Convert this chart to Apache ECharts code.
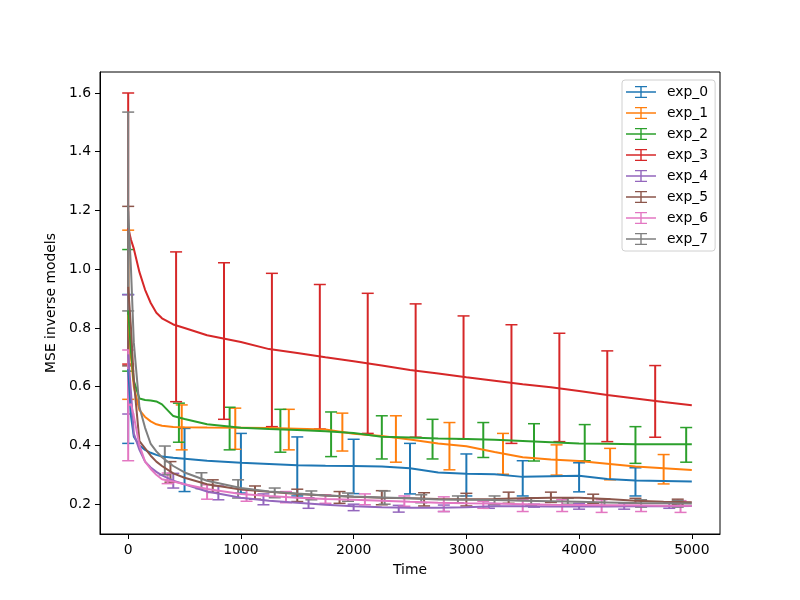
<!DOCTYPE html>
<html>
<head>
<meta charset="utf-8">
<script src="https://cdn.jsdelivr.net/npm/echarts@6.0.0/dist/echarts.min.js"></script>
<style>
  html, body { margin: 0; padding: 0; background: #fff; }
  #main { width: 800px; height: 600px; }
</style>
</head>
<body>
<div id="main"></div>
<script>
// sample times for the mean curves
var times = [0, 25, 50, 100, 150, 200, 250, 300, 400, 500, 700, 1000, 1250, 1500, 1750, 2000,
  2250, 2500, 2750, 3000, 3250, 3500, 3750, 4000, 4250, 4500, 4750, 5000];

var exp0 = [0.66, 0.50, 0.43, 0.40, 0.385, 0.375, 0.368, 0.362, 0.358, 0.355, 0.348, 0.341, 0.337, 0.333, 0.331, 0.330,
  0.328, 0.322, 0.308, 0.304, 0.302, 0.293, 0.295, 0.297, 0.286, 0.281, 0.279, 0.277];
var exp1 = [0.845, 0.70, 0.60, 0.52, 0.497, 0.482, 0.472, 0.467, 0.463, 0.462, 0.461, 0.460, 0.459, 0.457, 0.454, 0.440,
  0.432, 0.420, 0.407, 0.397, 0.378, 0.360, 0.352, 0.347, 0.338, 0.328, 0.322, 0.316];
var exp2 = [0.86, 0.72, 0.62, 0.56, 0.555, 0.553, 0.55, 0.54, 0.50, 0.49, 0.472, 0.46, 0.456, 0.453, 0.448, 0.442,
  0.430, 0.427, 0.424, 0.422, 0.419, 0.415, 0.411, 0.407, 0.406, 0.404, 0.404, 0.404];
var exp3 = [1.14, 1.10, 1.07, 0.99, 0.93, 0.885, 0.852, 0.833, 0.812, 0.80, 0.775, 0.752, 0.728, 0.715, 0.70, 0.687,
  0.672, 0.657, 0.645, 0.632, 0.62, 0.608, 0.598, 0.585, 0.572, 0.56, 0.548, 0.537];
var exp4 = [0.71, 0.58, 0.44, 0.385, 0.345, 0.325, 0.31, 0.298, 0.28, 0.268, 0.243, 0.222, 0.212, 0.205, 0.198, 0.193,
  0.19, 0.188, 0.188, 0.19, 0.193, 0.193, 0.192, 0.192, 0.192, 0.193, 0.193, 0.194];
var exp5 = [0.94, 0.80, 0.62, 0.415, 0.39, 0.365, 0.345, 0.33, 0.305, 0.29, 0.268, 0.25, 0.242, 0.235, 0.23, 0.225,
  0.222, 0.22, 0.218, 0.217, 0.218, 0.22, 0.222, 0.222, 0.218, 0.212, 0.208, 0.207];
var exp6 = [0.537, 0.54, 0.50, 0.40, 0.345, 0.32, 0.30, 0.285, 0.277, 0.268, 0.252, 0.235, 0.228, 0.222, 0.218, 0.215,
  0.212, 0.208, 0.205, 0.203, 0.202, 0.20, 0.198, 0.197, 0.196, 0.196, 0.195, 0.195];
var exp7 = [1.197, 1.0, 0.75, 0.53, 0.46, 0.405, 0.38, 0.36, 0.33, 0.308, 0.28, 0.255, 0.243, 0.236, 0.23, 0.226,
  0.223, 0.22, 0.216, 0.215, 0.214, 0.212, 0.21, 0.208, 0.206, 0.204, 0.203, 0.202];

// error bars: [time, low, high]
var err0 = [[0, 0.407, 0.914], [500, 0.243, 0.458], [1000, 0.238, 0.441], [1500, 0.228, 0.429], [2000, 0.236, 0.421],
  [2500, 0.235, 0.407], [3000, 0.228, 0.371], [3500, 0.228, 0.348], [4000, 0.242, 0.341], [4500, 0.228, 0.324]];
var err1 = [[0, 0.557, 1.133], [475, 0.385, 0.538], [950, 0.387, 0.527], [1425, 0.385, 0.523], [1900, 0.381, 0.51],
  [2375, 0.343, 0.501], [2850, 0.317, 0.478], [3325, 0.302, 0.441], [3800, 0.299, 0.402], [4275, 0.283, 0.39],
  [4750, 0.269, 0.369]];
var err2 = [[0, 0.653, 1.067], [450, 0.411, 0.544], [900, 0.385, 0.53], [1350, 0.377, 0.523], [1800, 0.362, 0.514],
  [2250, 0.354, 0.501], [2700, 0.354, 0.489], [3150, 0.359, 0.478], [3600, 0.347, 0.474], [4050, 0.348, 0.471],
  [4500, 0.339, 0.464], [4950, 0.343, 0.461]];
var err3 = [[0, 0.677, 1.6], [425, 0.549, 1.059], [850, 0.489, 1.022], [1275, 0.464, 0.986], [1700, 0.456, 0.948],
  [2125, 0.441, 0.918], [2550, 0.428, 0.882], [2975, 0.422, 0.841], [3400, 0.407, 0.811], [3825, 0.413, 0.782],
  [4250, 0.413, 0.722], [4675, 0.428, 0.672]];
var err4 = [[0, 0.507, 0.913], [400, 0.255, 0.305], [800, 0.215, 0.262], [1200, 0.198, 0.235], [1600, 0.186, 0.222],
  [2000, 0.178, 0.2], [2400, 0.173, 0.196], [2800, 0.175, 0.197], [3200, 0.186, 0.203], [3600, 0.19, 0.2],
  [4000, 0.183, 0.203], [4400, 0.183, 0.203], [4800, 0.186, 0.205]];
var err5 = [[0, 0.671, 1.214], [375, 0.275, 0.345], [750, 0.24, 0.283], [1125, 0.217, 0.262], [1500, 0.209, 0.251],
  [1875, 0.203, 0.243], [2250, 0.198, 0.246], [2625, 0.194, 0.239], [3000, 0.194, 0.237], [3375, 0.203, 0.241],
  [3750, 0.206, 0.241], [4125, 0.203, 0.234], [4500, 0.203, 0.22], [4875, 0.198, 0.217]];
var err6 = [[0, 0.348, 0.725], [350, 0.27, 0.306], [700, 0.217, 0.266], [1050, 0.21, 0.25], [1400, 0.205, 0.243],
  [1750, 0.203, 0.232], [2100, 0.198, 0.235], [2450, 0.193, 0.228], [2800, 0.175, 0.225], [3150, 0.186, 0.21],
  [3500, 0.175, 0.215], [3850, 0.175, 0.215], [4200, 0.172, 0.215], [4550, 0.175, 0.212], [4900, 0.172, 0.212]];
var err7 = [[0, 0.858, 1.535], [325, 0.30, 0.398], [650, 0.253, 0.307], [975, 0.221, 0.283], [1300, 0.222, 0.255],
  [1625, 0.215, 0.245], [1950, 0.21, 0.238], [2275, 0.2, 0.245], [2600, 0.205, 0.232], [2925, 0.205, 0.228],
  [3250, 0.198, 0.228], [3575, 0.196, 0.222], [3900, 0.2, 0.22], [4225, 0.195, 0.218], [4550, 0.19, 0.215],
  [4875, 0.19, 0.212]];

var names = ['exp_0', 'exp_1', 'exp_2', 'exp_3', 'exp_4', 'exp_5', 'exp_6', 'exp_7'];
var colors = ['#1f77b4', '#ff7f0e', '#2ca02c', '#d62728', '#9467bd', '#8c564b', '#e377c2', '#7f7f7f'];
var xTicks = [0, 1000, 2000, 3000, 4000, 5000];
var yTicks = [0.2, 0.4, 0.6, 0.8, 1.0, 1.2, 1.4, 1.6];

var means = [exp0, exp1, exp2, exp3, exp4, exp5, exp6, exp7];
var errs = [err0, err1, err2, err3, err4, err5, err6, err7];

var font = 'DejaVu Sans';
// legend handle: line with an error bar (tiny dot at right pads the box)
var errIcon = 'path://M0,6.3h30v1.4h-30z M14.3,1h1.4v12h-1.4z M9,1h12v1.2h-12z M9,11.8h12v1.2h-12z M36,7h0.01v0.01h-0.01z';

function errRender(color) {
  return function (params, api) {
    var x = api.value(0);
    var lo = api.coord([x, api.value(1)]);
    var hi = api.coord([x, api.value(2)]);
    var cap = 6;
    var st = { stroke: color, lineWidth: 2, fill: null };
    var capSt = { stroke: color, lineWidth: 1.5, fill: null };
    return {
      type: 'group',
      children: [
        { type: 'line', shape: { x1: lo[0], y1: lo[1], x2: hi[0], y2: hi[1] }, style: st },
        { type: 'line', shape: { x1: lo[0] - cap, y1: lo[1], x2: lo[0] + cap, y2: lo[1] }, style: capSt },
        { type: 'line', shape: { x1: hi[0] - cap, y1: hi[1], x2: hi[0] + cap, y2: hi[1] }, style: capSt }
      ]
    };
  };
}

var series = [];
for (var i = 0; i < names.length; i++) {
  var vals = means[i];
  series.push({
    name: names[i],
    type: 'line',
    color: colors[i],
    showSymbol: false,
    symbol: 'none',
    lineStyle: { width: 2, color: colors[i] },
    data: times.map(function (t, k) { return [t, vals[k]]; })
  });
  series.push({
    name: names[i],
    type: 'custom',
    color: colors[i],
    renderItem: errRender(colors[i]),
    encode: { x: 0, y: [1, 2] },
    data: errs[i]
  });
}

var chart = echarts.init(document.getElementById('main'));
chart.setOption({
  animation: false,
  backgroundColor: '#fff',
  textStyle: { fontFamily: font },
  grid: { left: 100, right: 80, top: 72, bottom: 66, show: true, borderColor: '#000', borderWidth: 1 },
  legend: {
    data: names,
    orient: 'vertical',
    left: 622,
    top: 80,
    icon: errIcon,
    itemWidth: 36,
    itemHeight: 14,
    itemGap: 7,
    padding: [5, 7, 5, 4],
    backgroundColor: 'rgba(255,255,255,0.8)',
    borderColor: '#d0d0d0',
    borderWidth: 1,
    borderRadius: 3,
    textStyle: { fontFamily: font, fontSize: 13.9, color: '#000' }
  },
  xAxis: {
    type: 'value',
    min: -250,
    max: 5250,
    name: 'Time',
    nameLocation: 'middle',
    nameGap: 29,
    nameTextStyle: { fontFamily: font, fontSize: 13.9, color: '#000' },
    axisLine: { show: true, onZero: false, lineStyle: { color: '#000', width: 1 } },
    axisTick: { show: true, length: 5, customValues: xTicks, lineStyle: { color: '#000' } },
    axisLabel: {
      customValues: xTicks, margin: 9, fontFamily: font, fontSize: 13.9, color: '#000',
      formatter: function (v) { return String(v); }
    },
    splitLine: { show: false }
  },
  yAxis: {
    type: 'value',
    min: 0.0985,
    max: 1.6715,
    name: 'MSE inverse models',
    nameLocation: 'middle',
    nameGap: 33,
    nameTextStyle: { fontFamily: font, fontSize: 13.9, color: '#000' },
    axisLine: { show: true, onZero: false, lineStyle: { color: '#000', width: 1 } },
    axisTick: { show: true, length: 5, customValues: yTicks, lineStyle: { color: '#000' } },
    axisLabel: {
      customValues: yTicks, margin: 9, fontFamily: font, fontSize: 13.9, color: '#000',
      formatter: function (v) { return v.toFixed(1); }
    },
    splitLine: { show: false }
  },
  series: series
});
</script>
</body>
</html>
